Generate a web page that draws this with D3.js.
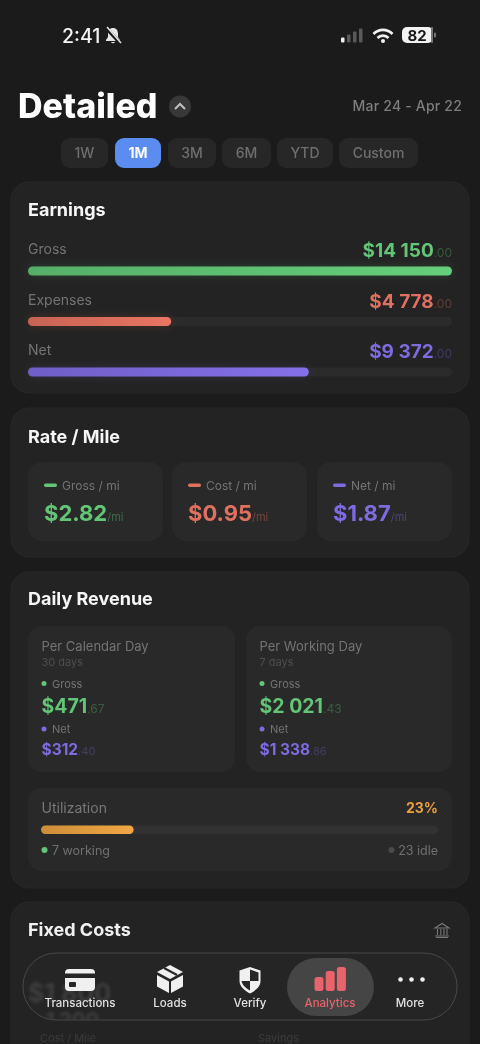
<!DOCTYPE html>
<html>
<head>
<meta charset="utf-8">
<script src="https://cdn.jsdelivr.net/npm/d3@7"></script>
<style>
  html, body { margin: 0; padding: 0; background: #1b1b1b; }
  svg { display: block; filter: blur(0.5px); }
  text { font-family: Inter, "Noto Sans", sans-serif; }
</style>
</head>
<body>
<script>
const ranges = ['1W', '1M', '3M', '6M', 'YTD', 'Custom'];
const rangeEdges = [[61, 108], [115, 161], [168, 216], [222, 271], [277, 333], [339, 418]];
const activeRange = '1M';

const earningNames = ['Gross', 'Expenses', 'Net'];
const earningValues = [14150, 4778, 9372];
const earningColors = ['#62c676', '#e0705f', '#7f6be0'];
const earningText = ['$14 150', '$4 778', '$9 372'];

const rateNames = ['Gross / mi', 'Cost / mi', 'Net / mi'];
const rateValues = ['$2.82', '$0.95', '$1.87'];

const dailyTitles = ['Per Calendar Day', 'Per Working Day'];
const dailyDays = ['30 days', '7 days'];
const dailyGross = [['$471', '.67'], ['$2 021', '.43']];
const dailyNet = [['$312', '.40'], ['$1 338', '.86']];

const workingDays = 7;
const idleDays = 23;

const navNames = ['Transactions', 'Loads', 'Verify', 'Analytics', 'More'];
const navCenters = [80, 170, 250, 330, 410];

const green = earningColors[0], red = earningColors[1], purple = earningColors[2];
const orange = '#e8a040';

const svg = d3.select('body').append('svg')
  .attr('width', 480).attr('height', 1044).attr('viewBox', '0 0 480 1044');

const defs = svg.append('defs');
defs.append('filter').attr('id', 'ghost').append('feGaussianBlur').attr('stdDeviation', 1.6);
defs.append('filter').attr('id', 'glow').attr('x', '-10%').attr('y', '-200%').attr('width', '120%').attr('height', '500%')
  .append('feGaussianBlur').attr('stdDeviation', 5);
defs.append('clipPath').attr('id', 'navClip').append('rect')
  .attr('x', 23).attr('y', 953).attr('width', 434).attr('height', 67).attr('rx', 33);

// bars go a bit brighter to the right
function barGradient(id, color) {
  const g = defs.append('linearGradient').attr('id', id);
  g.append('stop').attr('offset', '0%').attr('stop-color', d3.color(color).darker(0.35));
  g.append('stop').attr('offset', '100%').attr('stop-color', d3.color(color).brighter(0.12));
}
earningColors.forEach((c, i) => barGradient('bar' + i, c));
barGradient('barUtil', orange);

function box(x0, y0, x1, y1, r, fill, stroke) {
  return svg.append('rect')
    .attr('x', x0).attr('y', y0).attr('width', x1 - x0).attr('height', y1 - y0).attr('rx', r)
    .attr('fill', fill).attr('stroke', stroke || 'none');
}

function label(x, y, str, size, color, weight, anchor) {
  return svg.append('text')
    .attr('x', x).attr('y', y).text(str)
    .attr('font-size', size).attr('fill', color)
    .attr('font-weight', weight || 400).attr('text-anchor', anchor || 'start');
}

// amount with the small faded part after it
function amount(x, y, main, tail, size, tailSize, color, anchor) {
  const t = label(x, y, main, size, color, 700, anchor);
  t.append('tspan').text(tail)
    .attr('font-size', tailSize).attr('font-weight', 400).attr('fill-opacity', 0.32);
  return t;
}

// status bar
label(62, 43, '2:41', 19.5, '#f4f4f4', 500);
const bell = svg.append('g').attr('transform', 'translate(105,27)')
  .attr('fill', '#e6e6e6').attr('stroke', 'none');
bell.append('path').attr('d', 'M8 1c-3 0-5 2-5 6v3l-2 3v1h14v-1l-2-3V7c0-4-2-6-5-6zM6 15a2.2 2.2 0 0 0 4 0z');
bell.append('path').attr('d', 'M1 1L16 17').attr('stroke', '#1b1b1b').attr('stroke-width', 3.4);
bell.append('path').attr('d', 'M2 0L16 16').attr('stroke', '#e6e6e6').attr('stroke-width', 1.5);

const signal = [5, 8, 11, 14];
signal.forEach((h, i) => {
  box(341 + i * 6, 42.5 - h, 344.5 + i * 6, 42.5, 1, i == 0 ? '#eee' : '#5a5a5a');
});
const wifi = svg.append('g').attr('fill', 'none').attr('stroke', '#f2f2f2').attr('stroke-width', 2.6);
wifi.append('path').attr('d', 'M373.5 34a13 13 0 0 1 19 0');
wifi.append('path').attr('d', 'M377.5 38a7.5 7.5 0 0 1 11 0');
svg.append('circle').attr('cx', 383).attr('cy', 41).attr('r', 2).attr('fill', '#f2f2f2');
box(402, 27, 433, 43, 5, '#f2f2f2');
box(431, 27, 433, 43, 1, '#777');
box(434, 32.5, 436, 37.5, 1, '#777');
label(417, 40.5, '82', 15, '#151515', 700, 'middle');

// header
label(18, 118, 'Detailed', 34, '#fff', 800);
svg.append('circle').attr('cx', 180).attr('cy', 106.5).attr('r', 11).attr('fill', '#383838');
svg.append('path').attr('d', 'M175 109l5-5 5 5').attr('fill', 'none').attr('stroke', '#c0c0c0').attr('stroke-width', 2);
label(462, 111, 'Mar 24 - Apr 22', 14, '#7e7e7e', 500, 'end').attr('letter-spacing', 0.2);

// range buttons
ranges.forEach((d, i) => {
  const [a, b] = rangeEdges[i];
  const on = d == activeRange;
  box(a, 138, b, 168, 9, on ? '#5b8cf0' : '#272727');
  label((a + b) / 2, 158, d, 14, on ? '#fff' : '#6f6f6f', on ? 700 : 500, 'middle');
});

// cards
const cardFill = '#232323', cardLine = '#292929', innerFill = '#292929';
box(11, 182, 469, 393, 18, cardFill, cardLine);
box(11, 408, 469, 557, 18, cardFill, cardLine);
box(11, 572, 469, 888, 18, cardFill, cardLine);
box(11, 902, 469, 1080, 18, cardFill, cardLine);

// earnings
label(28, 216, 'Earnings', 18, '#f6f6f6', 700);
const earnX = d3.scaleLinear().domain([0, d3.max(earningValues)]).range([28, 452]);
const earnY = d3.scalePoint().domain(earningNames).range([271, 372]);
const barH = 9;

svg.append('g').selectAll('rect').data(earningNames).join('rect')
  .attr('x', earnX(0)).attr('y', d => earnY(d) - barH / 2)
  .attr('width', earnX.range()[1] - earnX(0)).attr('height', barH).attr('rx', 4.5).attr('fill', '#2b2b2b');
svg.append('g').selectAll('rect').data(earningNames).join('rect')
  .attr('x', earnX(0)).attr('y', d => earnY(d) - barH / 2)
  .attr('width', (d, i) => earnX(earningValues[i]) - earnX(0)).attr('height', barH).attr('rx', 4.5)
  .attr('fill', (d, i) => earningColors[i]).attr('opacity', 0.18).attr('filter', 'url(#glow)');
svg.append('g').selectAll('rect').data(earningNames).join('rect')
  .attr('x', earnX(0)).attr('y', d => earnY(d) - barH / 2)
  .attr('width', (d, i) => earnX(earningValues[i]) - earnX(0)).attr('height', barH).attr('rx', 4.5)
  .attr('fill', (d, i) => `url(#bar${i})`);

earningNames.forEach((d, i) => {
  label(28, earnY(d) - 17, d, 14, '#747474', 400);
  amount(452, earnY(d) - 14, earningText[i], '.00', 19, 12, earningColors[i], 'end');
});

// rate per mile
label(28, 443, 'Rate / Mile', 18, '#f6f6f6', 700);
const rateEdges = [[28, 163], [172, 307], [317, 452]];
rateNames.forEach((d, i) => {
  const [a, b] = rateEdges[i];
  box(a, 462, b, 541, 14, innerFill);
  box(a + 16, 483.5, a + 29, 487, 1.7, earningColors[i]);
  label(a + 34, 490, d, 12, '#747474', 400);
  const t = label(a + 16, 521, rateValues[i], 22, earningColors[i], 700);
  t.append('tspan').text('/mi').attr('font-size', 11).attr('font-weight', 400).attr('fill-opacity', 0.4);
});

// daily revenue
label(28, 605, 'Daily Revenue', 18, '#f6f6f6', 700);
const dailyEdges = [[28, 235], [246, 452]];
dailyTitles.forEach((d, i) => {
  const [a, b] = dailyEdges[i];
  const x = a + 13.5;
  box(a, 626, b, 772, 14, innerFill);
  label(x, 651, d, 13, '#747474', 400);
  label(x, 666, dailyDays[i], 11, '#4e4e4e', 400);
  svg.append('circle').attr('cx', x + 2.5).attr('cy', 683.5).attr('r', 2.5).attr('fill', green);
  label(x + 10.5, 687.5, 'Gross', 11, '#747474', 400);
  amount(x, 713, dailyGross[i][0], dailyGross[i][1], 19.5, 12, green);
  svg.append('circle').attr('cx', x + 2.5).attr('cy', 729).attr('r', 2.5).attr('fill', purple);
  label(x + 10.5, 733, 'Net', 11, '#747474', 400);
  amount(x, 755, dailyNet[i][0], dailyNet[i][1], 15.5, 11, purple);
});

// utilization
box(28, 788, 452, 871, 14, innerFill);
label(41.5, 813, 'Utilization', 14, '#787878', 400);
label(438, 813, d3.format('.0%')(workingDays / (workingDays + idleDays)), 14, orange, 700, 'end');
const utilX = d3.scaleLinear().domain([0, workingDays + idleDays]).range([41, 438]);
box(utilX(0), 825.5, utilX.range()[1], 834, 4.2, '#323232');
svg.append('rect').attr('x', utilX(0)).attr('y', 825.5)
  .attr('width', utilX(workingDays) - utilX(0)).attr('height', 8.5).attr('rx', 4.2).attr('fill', 'url(#barUtil)');
svg.append('circle').attr('cx', 44.5).attr('cy', 850).attr('r', 3).attr('fill', green);
label(52, 855, workingDays + ' working', 12.5, '#707070', 400);
svg.append('circle').attr('cx', 391.5).attr('cy', 850).attr('r', 3).attr('fill', '#4a4a4a');
label(438, 855, idleDays + ' idle', 12.5, '#707070', 400, 'end');

// fixed costs
label(28, 936, 'Fixed Costs', 18, '#f0f0f0', 700);
const bank = svg.append('g').attr('fill', 'none').attr('stroke', '#777').attr('stroke-width', 1.1);
bank.append('path').attr('d', 'M435 928l7-4.5 7 4.5zM436 937.5h12M435 936h14M437.5 929v6M440.8 929v6M444 929v6M447 929v6');

// nav bar, with the content showing through
label(40, 1042, 'Cost / Mile', 11, '#3c3c3c', 400);
label(258, 1042, 'Savings', 11, '#3c3c3c', 400);
box(23, 953, 457, 1020, 33, '#262626', '#484848').attr('fill-opacity', 0.9);
const ghost = svg.append('g').attr('clip-path', 'url(#navClip)').append('g').attr('filter', 'url(#ghost)');
ghost.append('text').attr('x', 28).attr('y', 1002).text('$1 800')
  .attr('font-size', 25).attr('font-weight', 700).attr('fill', '#3d3d3d');
ghost.append('text').attr('x', 46).attr('y', 1027).text('1 200')
  .attr('font-size', 20).attr('font-weight', 700).attr('fill', '#3d3d3d');
box(287, 958, 374, 1016, 29, '#454545');

navNames.forEach((d, i) => {
  const on = d == 'Analytics';
  label(navCenters[i], 1007, d, 11.5, on ? '#e8636a' : '#e2e2e2', 500, 'middle');
});

// nav icons
box(65, 969, 95, 991, 4, '#f0f0f0');
box(65, 973.5, 95, 978, 0, '#262626');
box(69, 982, 76, 987, 1, '#262626');

const cube = svg.append('g').attr('stroke', 'none');
cube.append('path').attr('d', 'M170 965l13 7-13 7-13-7z').attr('fill', '#f0f0f0');
cube.append('path').attr('d', 'M157 975l12 6.5V993l-12-6.5z').attr('fill', '#f0f0f0');
cube.append('path').attr('d', 'M183 975l-12 6.5V993l12-6.5z').attr('fill', '#f0f0f0');
cube.append('path').attr('d', 'M164 968l13 7').attr('stroke', '#262626').attr('stroke-width', 2);

svg.append('path').attr('d', 'M250 967l10.5 3.5V981c0 5-4 9-10.5 12.5-6.5-3.500-10.500-7.500-10.500-12.500V970.500z').attr('fill', '#f0f0f0');
svg.append('path').attr('d', 'M250 969.500l8.500 3v8.500H250zM250 981h-8.500c.5 3.500 4 7 8.500 9.500z').attr('fill', '#262626');

const navBars = [14, 20, 24];
navBars.forEach((h, i) => {
  box(314.5 + i * 11.2, 991 - h, 323.5 + i * 11.2, 991, 2.5, '#e8636a');
});

[-11, 0, 11].forEach(dx => {
  svg.append('circle').attr('cx', 411.5 + dx).attr('cy', 979.5).attr('r', 2.3).attr('fill', '#f0f0f0');
});
</script>
</body>
</html>
